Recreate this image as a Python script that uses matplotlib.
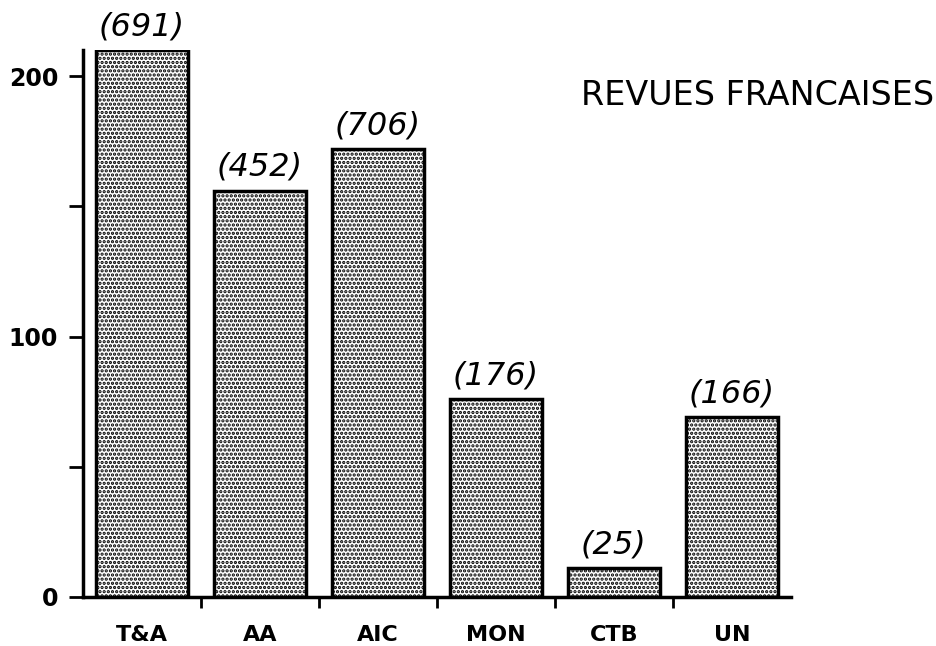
"""
Bar chart: revues francaises.
"""

import matplotlib
matplotlib.use("Agg")
import matplotlib.pyplot as plt
import numpy as np

# data
categories = ["T&A", "AA", "AIC", "MON", "CTB", "UN"]
values = [210, 156, 172, 76, 11, 69]
notes = ["(691)", "(452)", "(706)", "(176)", "(25)", "(166)"]
y_ticks = [0, 50, 100, 150, 200]
y_labels = ["0", "", "100", "", "200"]

plt.rcParams["hatch.linewidth"] = 1.6
plt.rcParams["hatch.color"] = "black"

fig = plt.figure(figsize=(9.37, 6.46), dpi=100)
ax = fig.add_axes([0.0886, 0.0759, 0.7554, 0.8467])

x = np.arange(len(categories))
ax.bar(x, values, width=0.78, facecolor="white", edgecolor="black",
       linewidth=2.5, hatch="....")

# handwritten counts above bars
for xi, v, n in zip(x, values, notes):
    ax.text(xi, v + 3, n, ha="center", va="bottom", fontsize=23,
            style="italic", family="DejaVu Sans", clip_on=False)

ax.set_xlim(-0.5, 5.5)
ax.set_ylim(0, 210)

ax.spines["top"].set_visible(False)
ax.spines["right"].set_visible(False)
ax.spines["left"].set_linewidth(2.5)
ax.spines["bottom"].set_linewidth(2.5)

ax.set_yticks(y_ticks)
ax.set_yticklabels(y_labels, fontsize=17, fontweight="bold")
ax.tick_params(axis="y", direction="out", length=10, width=2, pad=8)

ax.set_xticks(x)
ax.set_xticklabels(categories, fontsize=16, fontweight="bold")
ax.set_xticks(x[:-1] + 0.5, minor=True)
ax.tick_params(axis="x", which="major", length=0, pad=20)
ax.tick_params(axis="x", which="minor", direction="out", length=8, width=2)

fig.text(0.997, 0.852, "REVUES FRANCAISES", ha="right", va="center",
         fontsize=24)

fig.savefig("out.png", dpi=100)
